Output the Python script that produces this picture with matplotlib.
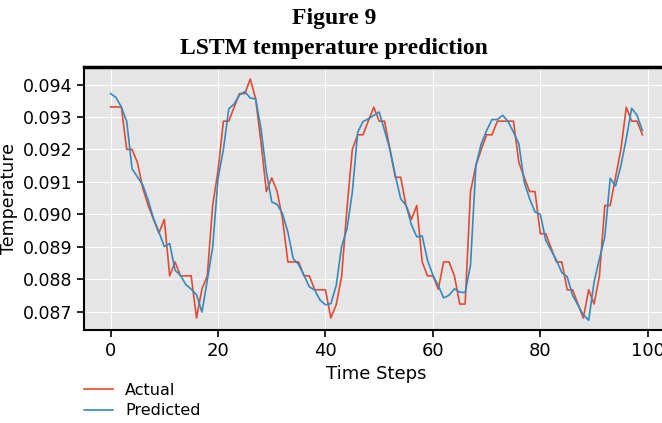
import numpy as np
import matplotlib.pyplot as plt

plt.style.use('ggplot')

# time steps 0..99
steps = np.arange(100)

actual = [
    0.09331, 0.09331, 0.09330, 0.09200, 0.09200, 0.09159, 0.09080, 0.09027, 0.08984, 0.08942,
    0.08984, 0.08810, 0.08853, 0.08810, 0.08810, 0.08810, 0.08680, 0.08769, 0.08810, 0.09027,
    0.09135, 0.09287, 0.09287, 0.09330, 0.09372, 0.09372, 0.09417, 0.09356, 0.09222, 0.09070,
    0.09112, 0.09070, 0.08986, 0.08853, 0.08853, 0.08853, 0.08810, 0.08810, 0.08767, 0.08767,
    0.08767, 0.08680, 0.08721, 0.08807, 0.09017, 0.09200, 0.09245, 0.09245, 0.09289, 0.09330,
    0.09287, 0.09287, 0.09200, 0.09114, 0.09114, 0.09027, 0.08984, 0.09027, 0.08853, 0.08810,
    0.08810, 0.08769, 0.08853, 0.08853, 0.08810, 0.08723, 0.08723, 0.09070, 0.09150, 0.09200,
    0.09245, 0.09245, 0.09287, 0.09287, 0.09287, 0.09287, 0.09159, 0.09114, 0.09070, 0.09070,
    0.08940, 0.08940, 0.08896, 0.08853, 0.08853, 0.08767, 0.08767, 0.08723, 0.08680, 0.08767,
    0.08723, 0.08810, 0.09027, 0.09027, 0.09114, 0.09200, 0.09330, 0.09287, 0.09287, 0.09245,
]

predicted = [
    0.09372, 0.09360, 0.09331, 0.09286, 0.09140, 0.09115, 0.09090, 0.09043, 0.08986, 0.08945,
    0.08900, 0.08910, 0.08827, 0.08812, 0.08783, 0.08769, 0.08752, 0.08698, 0.08796, 0.08898,
    0.09110, 0.09200, 0.09325, 0.09340, 0.09368, 0.09378, 0.09358, 0.09356, 0.09263, 0.09130,
    0.09038, 0.09030, 0.09002, 0.08945, 0.08863, 0.08845, 0.08812, 0.08776, 0.08766, 0.08735,
    0.08721, 0.08724, 0.08780, 0.08900, 0.08955, 0.09068, 0.09253, 0.09286, 0.09294, 0.09305,
    0.09315, 0.09258, 0.09200, 0.09120, 0.09048, 0.09027, 0.08968, 0.08930, 0.08933, 0.08858,
    0.08812, 0.08780, 0.08742, 0.08750, 0.08770, 0.08760, 0.08758, 0.08843, 0.09150, 0.09217,
    0.09258, 0.09292, 0.09292, 0.09305, 0.09286, 0.09253, 0.09217, 0.09099, 0.09048, 0.09007,
    0.09000, 0.08920, 0.08889, 0.08858, 0.08820, 0.08807, 0.08750, 0.08720, 0.08690, 0.08673,
    0.08791, 0.08863, 0.08930, 0.09111, 0.09087, 0.09150, 0.09233, 0.09327, 0.09305, 0.09258,
]

fig = plt.figure(figsize=(6.62, 4.23), dpi=100)
ax = fig.add_axes([84 / 662, 93 / 423, 585 / 662, 263 / 423])

ax.plot(steps, actual, color='#E24A33', lw=1.2, label='Actual')
ax.plot(steps, predicted, color='#348ABD', lw=1.2, label='Predicted')

ax.set_xlim(-4.95, 103.95)
ax.set_ylim(0.08643, 0.09454)
ax.set_xticks([0, 20, 40, 60, 80, 100])
ax.set_yticks([0.087, 0.088, 0.089, 0.090, 0.091, 0.092, 0.093, 0.094])
ax.tick_params(labelsize=13, colors='black', length=5, width=1.2)
ax.tick_params(axis='y', labelsize=12.5)
ax.set_xlabel('Time Steps', fontsize=13, color='black')
ax.set_ylabel('Temperature', fontsize=12.5, color='black')
ax.yaxis.set_label_coords(-0.112, 0.5)

# black frame on the ggplot background
for side in ['left', 'bottom', 'top', 'right']:
    ax.spines[side].set_visible(True)
    ax.spines[side].set_color('black')
    ax.spines[side].set_linewidth(1.5)
ax.spines['top'].set_linewidth(2.5)

fig.text(0.505, 0.957, 'Figure 9', ha='center', va='center',
         fontsize=17, fontweight='bold', family='Liberation Serif')
fig.text(0.505, 0.885, 'LSTM temperature prediction', ha='center', va='center',
         fontsize=17, fontweight='bold', family='Liberation Serif')

fig.legend(loc='upper left', bbox_to_anchor=(0.117, 0.11), frameon=False,
           fontsize=11.5, handlelength=1.8, labelspacing=0.35, borderaxespad=0)

fig.savefig('out.png', dpi=100, facecolor='white')
